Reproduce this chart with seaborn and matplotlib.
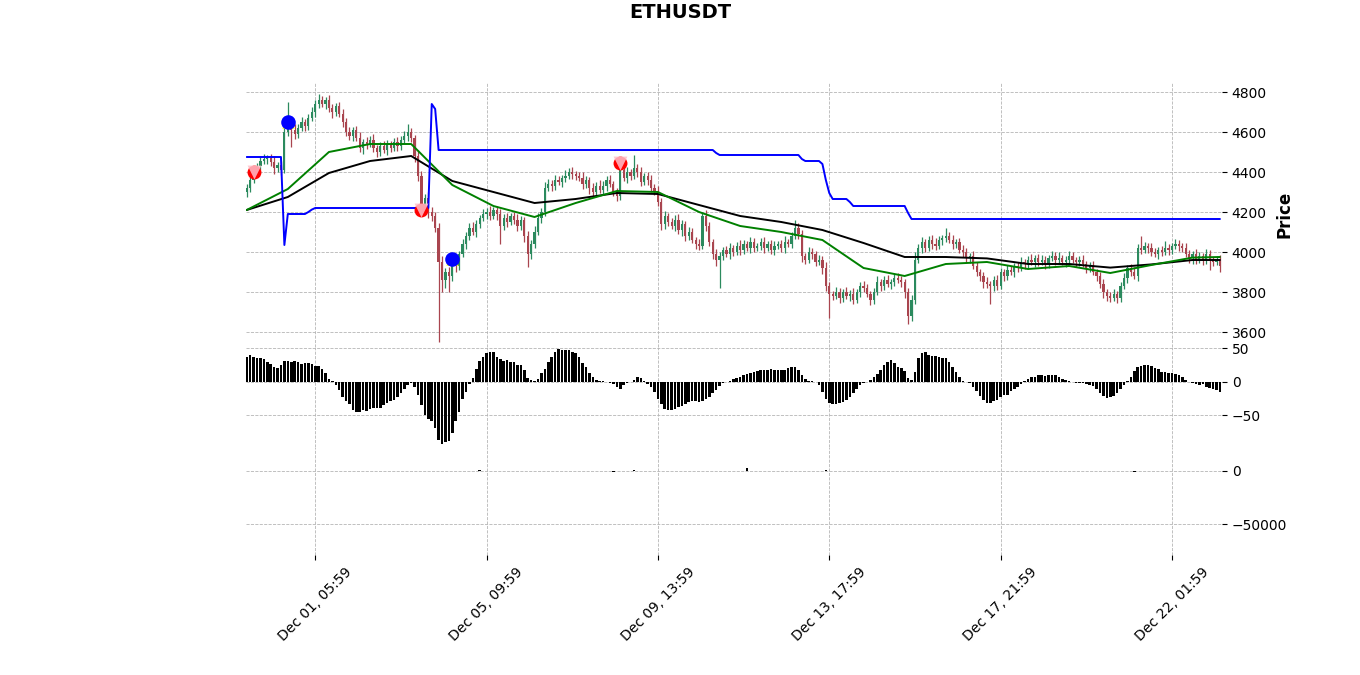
import numpy as np
import pandas as pd
import matplotlib
matplotlib.use("Agg")
import matplotlib.pyplot as plt
import seaborn as sns

sns.set_theme(style="white")
plt.rcParams["font.family"] = ["DejaVu Sans"]
plt.rcParams.update({"text.color": "black", "axes.labelcolor": "black",
                     "xtick.color": "black", "ytick.color": "black"})

# -------- data (2h candles) --------
first_open = 4300
close = [
    4320, 4360, 4400, 4430, 4455, 4465, 4470, 4450, 4420, 4435, 4410, 4600, 4640, 4610, 4590,
    4620, 4650, 4630, 4670, 4700, 4740, 4760, 4740, 4760, 4720, 4700, 4730, 4690, 4650, 4600,
    4580, 4610, 4570, 4520, 4550, 4540, 4560, 4520, 4500, 4530, 4510, 4540, 4520, 4550, 4530,
    4560, 4580, 4600, 4570, 4480, 4380, 4230, 4270, 4200, 4180, 4120, 3950, 3860, 3900, 3880,
    3960, 3930, 3990, 4040, 4080, 4120, 4100, 4140, 4170, 4190, 4200, 4180, 4210, 4190, 4130,
    4170, 4150, 4180, 4160, 4130, 4160, 4080, 3990, 4040, 4100, 4170, 4200, 4320, 4340, 4330,
    4360, 4350, 4370, 4380, 4400, 4390, 4380, 4370, 4340, 4360, 4320, 4300, 4330, 4310, 4330,
    4360, 4340, 4300, 4280, 4410, 4370, 4400, 4380, 4420, 4400, 4350, 4380, 4360, 4320, 4300,
    4250, 4140, 4180, 4150, 4130, 4160, 4110, 4140, 4080, 4100, 4060, 4040, 4030, 4180, 4130,
    4050, 3990, 3960, 3980, 4010, 3990, 4020, 4000, 4030, 4010, 4040, 4020, 4050, 4020, 4030,
    4050, 4020, 4040, 4010, 4030, 4040, 4020, 4050, 4040, 4080, 4120, 4090, 3980, 3960, 4000,
    3990, 3950, 3960, 3920, 3830, 3790, 3780, 3800, 3770, 3800, 3780, 3790, 3760, 3800, 3830,
    3820, 3790, 3760, 3800, 3850, 3830, 3860, 3840, 3850, 3870, 3860, 3850, 3800, 3680, 3760,
    3960, 4020, 4050, 4020, 4060, 4040, 4030, 4060, 4070, 4080, 4060, 4040, 4050, 4010, 4000,
    3970, 3980, 3930, 3900, 3880, 3850, 3840, 3830, 3860, 3830, 3900, 3880, 3910, 3900, 3930,
    3920, 3950, 3940, 3960, 3950, 3970, 3950, 3960, 3940, 3970, 3980, 3960, 3970, 3950, 3960,
    3980, 3960, 3950, 3960, 3940, 3920, 3930, 3900, 3880, 3840, 3800, 3780, 3770, 3790, 3770,
    3830, 3870, 3920, 3900, 3880, 4020, 4010, 4030, 4020, 4000, 3990, 4010, 4000, 4020, 4010,
    4030, 4040, 4030, 4020, 3990, 3970, 3990, 3960, 3980, 3960, 3990, 3960, 3950, 3960, 3930,
]
wick_up = [
    20, 25, 30, 15, 20, 25, 15, 20, 30, 15, 20, 20, 110, 25, 30,
    20, 25, 15, 20, 25, 20, 30, 20, 15, 25, 20, 15, 20, 25, 20,
    25, 15, 20, 30, 15, 25, 20, 30, 15, 20, 25, 20, 15, 20, 25,
    20, 25, 40, 20, 15, 30, 25, 20, 30, 25, 20, 25, 30, 20, 25,
    20, 30, 15, 25, 20, 25, 30, 20, 15, 25, 20, 30, 15, 20, 25,
    20, 25, 15, 20, 30, 20, 15, 25, 20, 30, 25, 20, 30, 25, 20,
    25, 20, 15, 30, 20, 25, 15, 20, 30, 20, 15, 25, 20, 30, 25,
    20, 25, 15, 20, 60, 20, 25, 15, 65, 20, 25, 15, 20, 25, 20,
    30, 20, 25, 15, 20, 25, 30, 20, 15, 25, 20, 15, 25, 20, 30,
    20, 15, 25, 20, 15, 20, 25, 15, 20, 30, 20, 15, 25, 20, 15,
    20, 25, 15, 20, 25, 15, 20, 30, 15, 20, 40, 25, 20, 15, 25,
    20, 15, 25, 20, 30, 20, 15, 25, 20, 15, 25, 20, 30, 15, 20,
    25, 20, 15, 20, 30, 15, 20, 25, 15, 20, 25, 20, 15, 20, 25,
    40, 20, 25, 15, 20, 25, 30, 20, 15, 40, 20, 25, 15, 20, 25,
    20, 15, 25, 20, 15, 20, 25, 15, 20, 25, 20, 15, 25, 20, 15,
    20, 25, 15, 20, 30, 15, 20, 25, 20, 15, 25, 20, 30, 15, 20,
    25, 20, 15, 20, 25, 15, 20, 25, 15, 20, 25, 15, 20, 25, 15,
    20, 25, 15, 20, 25, 20, 60, 20, 15, 25, 20, 15, 20, 35, 20,
    15, 25, 20, 15, 25, 20, 15, 25, 20, 15, 25, 20, 15, 20, 25,
]
wick_dn = [
    25, 20, 15, 25, 20, 15, 25, 20, 30, 20, 25, 15, 20, 85, 25,
    20, 15, 25, 20, 15, 25, 20, 15, 25, 20, 30, 20, 15, 25, 20,
    20, 25, 15, 20, 30, 25, 15, 20, 25, 20, 15, 25, 20, 15, 25,
    20, 15, 25, 20, 30, 25, 40, 20, 30, 25, 20, 400, 60, 40, 80,
    25, 30, 20, 15, 25, 20, 15, 25, 20, 15, 25, 20, 15, 30, 90,
    20, 25, 15, 20, 25, 20, 30, 65, 25, 20, 15, 25, 20, 15, 25,
    20, 15, 25, 20, 15, 25, 20, 15, 25, 20, 30, 20, 25, 15, 20,
    25, 15, 20, 25, 20, 15, 25, 20, 15, 25, 20, 15, 25, 20, 15,
    20, 30, 25, 20, 15, 25, 20, 30, 25, 20, 15, 25, 20, 15, 25,
    20, 25, 30, 140, 20, 15, 25, 20, 15, 25, 20, 15, 25, 20, 15,
    20, 25, 15, 20, 25, 15, 20, 25, 15, 20, 15, 25, 30, 20, 15,
    25, 20, 15, 30, 25, 120, 20, 15, 25, 20, 15, 25, 20, 15, 25,
    20, 15, 25, 20, 15, 25, 20, 15, 25, 20, 15, 25, 30, 40, 25,
    20, 15, 25, 20, 15, 25, 20, 15, 25, 20, 15, 25, 20, 15, 25,
    20, 25, 15, 20, 25, 30, 20, 90, 25, 20, 15, 25, 20, 15, 25,
    20, 15, 25, 20, 15, 25, 20, 15, 25, 20, 15, 25, 20, 15, 25,
    20, 15, 25, 20, 15, 25, 20, 15, 25, 20, 30, 25, 20, 15, 25,
    20, 15, 25, 20, 15, 25, 20, 15, 25, 20, 15, 25, 20, 15, 25,
    20, 15, 25, 20, 15, 25, 30, 20, 15, 25, 20, 50, 20, 15, 30,
]

# daily moving averages (one value every 12 bars + last bar)
ma_idx = [0, 12, 24, 36, 48, 60, 72, 84, 96, 108, 120, 132, 144, 156, 168, 180,
          192, 204, 216, 228, 240, 252, 264, 276, 284]
ma_slow = [4210, 4275, 4395, 4455, 4480, 4355, 4300, 4245, 4265, 4295, 4290, 4235, 4180,
           4150, 4110, 4045, 3975, 3975, 3968, 3940, 3940, 3922, 3938, 3960, 3960]
ma_fast = [4210, 4315, 4500, 4540, 4540, 4335, 4230, 4175, 4245, 4305, 4300, 4200, 4130,
           4100, 4060, 3920, 3880, 3940, 3950, 3915, 3930, 3895, 3935, 3972, 3975]

# stepped level line: level values and how many bars each lasts
level_vals = [4475, 4035, 4190, 4200, 4212, 4220, 4740, 4715, 4510, 4495, 4485, 4465,
              4455, 4440, 4360, 4295, 4265, 4250, 4230, 4195, 4165]
level_runs = [11, 1, 6, 1, 1, 34, 1, 1, 81, 1, 24, 1, 5, 1, 1, 1, 5, 1, 16, 1, 91]

# signals
buy_idx, buy_px = [12, 60], [4650, 3965]
sell_idx, sell_px = [2, 51, 109], [4400, 4210, 4445]

# MACD histogram per bar
macd_hist = [
    37, 40, 37, 36, 35, 34, 30, 27, 22, 21, 25, 31, 31, 30, 31, 29, 27, 28, 28, 27,
    24, 23, 19, 14, 5, 1,
    -4, -12, -22, -29, -33, -42, -45, -45, -42, -43,
    -41, -39, -39, -39, -34, -32, -29, -27, -22, -17,
    -11, -4, -2, -8, -19, -34, -49, -56, -59, -69,
    -86, -92, -89, -88, -76, -58, -45, -25, -15, -3,
    6, 19, 31, 37, 43, 44, 45, 37, 34, 31,
    32, 30, 30, 25, 25, 18, 6, 3, 2, 5,
    13, 19, 30, 37, 45, 49, 48, 48, 48, 45,
    43, 37, 28, 22, 13, 7, 3, 2, 1, 0,
    -1, -3, -7, -10, -4, -2, 0, 3, 7, 6, 2,
    -3, -8, -15, -25, -33, -40, -42, -42, -40, -38, -36, -33, -30, -28, -29, -30, -28,
    -26, -22, -17, -12, -6, -2,
    0, 2, 4, 6, 8, 10, 12, 14, 15, 16, 17,
    18, 18, 19, 18, 17, 17, 18, 20, 22, 22, 18, 10, 4,
    2, 1, 0, -5, -15, -25, -31,
    -33, -33, -32, -30, -27, -22, -16, -10,
    -5, -2, 0, 3, 8, 12, 18, 25, 30, 32, 28, 22,
    21, 16, 6, 3, 15, 36, 43, 45, 40, 39,
    39, 37, 36, 35, 30, 22, 15, 8, 2, 0,
    -2, -7, -14, -21, -27, -31, -32, -29, -27, -22,
    -19, -20, -14, -11, -7, -3, 2, 4, 7, 7,
    10, 11, 9, 10, 11, 10, 7, 4, 3, 2,
    0, -1, -2, -2, -3, -4, -6, -11, -17, -21,
    -24, -23, -21, -17, -11, -4, 2, 8, 16, 22,
    24, 25, 25, 23, 21, 19, 15, 15, 13, 13,
    12, 10, 7, 3, 0, -1, -3, -4, -3, -7,
    -9, -11, -12, -15,
]

# third panel: almost all zero, a few tiny bars
extra_idx = [68, 107, 113, 146, 169, 259]
extra_val = [1200, -900, 700, 2500, 600, -900]

tick_pos = [20, 70, 120, 170, 220, 270]
tick_lbl = ["Dec 01, 05:59", "Dec 05, 09:59", "Dec 09, 13:59",
            "Dec 13, 17:59", "Dec 17, 21:59", "Dec 22, 01:59"]

# -------- build frame --------
df = pd.DataFrame({"close": close})
df["open"] = [first_open] + close[:-1]
df["high"] = df[["open", "close"]].max(axis=1) + np.array(wick_up)
df["low"] = df[["open", "close"]].min(axis=1) - np.array(wick_dn)
n = len(df)
idx = np.arange(n)
level_line = np.repeat(level_vals, level_runs)
extra = np.zeros(n)
extra[extra_idx] = extra_val

UP, DOWN = "#2b8a5e", "#a9454f"
GRID = dict(linestyle="--", linewidth=0.6, color="#b5b5b5")

fig = plt.figure(figsize=(13.6, 6.75), dpi=100)
left, width = 246 / 1360, 976 / 1360
ax = fig.add_axes([left, 1 - 347 / 675, width, 265 / 675])
ax2 = fig.add_axes([left, 1 - 447 / 675, width, 100 / 675], sharex=ax)
ax3 = fig.add_axes([left, 1 - 555 / 675, width, 108 / 675], sharex=ax)

# -------- candles --------
up = df["close"] >= df["open"]
colors = np.where(up, UP, DOWN)
ax.vlines(idx, df["low"], df["high"], colors=colors, linewidth=0.9, zorder=2)
body = (df["close"] - df["open"]).abs().clip(lower=3)
ax.bar(idx, body, bottom=df[["open", "close"]].min(axis=1), width=0.65,
       color=colors, linewidth=0, zorder=3)

# -------- lines --------
sns.lineplot(x=ma_idx, y=ma_slow, color="black", linewidth=1.4, ax=ax, zorder=4)
sns.lineplot(x=ma_idx, y=ma_fast, color="green", linewidth=1.4, ax=ax, zorder=4)
sns.lineplot(x=idx, y=level_line, color="blue", linewidth=1.4, ax=ax, zorder=4)

# -------- signals --------
ax.scatter(buy_idx, buy_px, marker="^", s=80, color="yellow", linewidths=0, zorder=5)
ax.scatter(buy_idx, buy_px, marker="o", s=110, color="blue", linewidths=0, zorder=6)
ax.scatter(sell_idx, sell_px, marker="o", s=100, color="red", linewidths=0, zorder=5)
ax.scatter(sell_idx, sell_px, marker="v", s=100, color="pink", alpha=0.85,
           linewidths=0, zorder=6)

# -------- MACD & extra panel --------
ax2.bar(idx, macd_hist, width=0.75, color="black", linewidth=0, zorder=3)
ax3.bar(idx, extra, width=0.75, color="black", linewidth=0, zorder=3)

ax.set_ylim(3525, 4850)
ax.set_yticks(np.arange(3600, 4801, 200))
ax2.set_ylim(-97, 52)
ax2.set_yticks([-50, 0, 50])
ax3.set_ylim(-79200, 22600)
ax3.set_yticks([-50000, 0])
ax.set_xlim(-0.2, n - 0.4)

for a in (ax, ax2, ax3):
    for s in a.spines.values():
        s.set_visible(False)
    a.grid(True, **GRID)
    a.set_axisbelow(True)
    a.yaxis.tick_right()
    a.tick_params(axis="y", which="both", direction="out", length=3.5, width=0.8,
                  labelsize=10, left=False, right=True, colors="black")
    a.set_xticks(tick_pos)
    a.set_xlabel("")

for a in (ax, ax2):
    a.tick_params(axis="x", bottom=False, labelbottom=False)

ax3.set_xticklabels(tick_lbl, rotation=45, ha="center", fontsize=10)
ax3.tick_params(axis="x", bottom=True, direction="out", length=3.5, width=0.8,
                labelsize=10)

ax.set_ylabel("Price", fontsize=12, fontweight="bold", labelpad=6)
ax.yaxis.set_label_position("right")

fig.text(0.5, 0.982, "ETHUSDT", ha="center", va="center", fontsize=14,
         fontweight="bold")

fig.savefig("out.png", dpi=100)
plt.close(fig)
